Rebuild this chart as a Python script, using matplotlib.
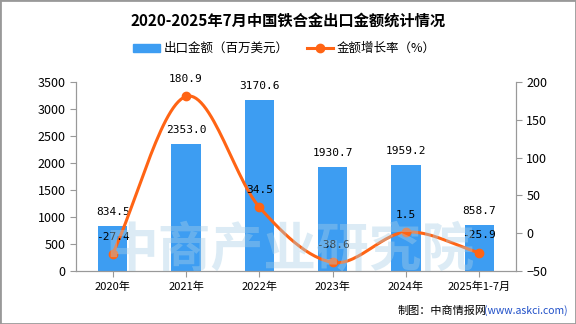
import numpy as np
import matplotlib.pyplot as plt
from matplotlib.patches import Rectangle

plt.rcParams['font.family'] = ['Noto Sans CJK SC', 'DejaVu Sans']

# 数据
年份 = ["2020年", "2021年", "2022年", "2023年", "2024年", "2025年1-7月"]
出口金额 = [834.5, 2353.0, 3170.6, 1930.7, 1959.2, 858.7]
增长率 = [-27.4, 180.9, 34.5, -38.6, 1.5, -25.9]

bar_color = "#3d9df2"
line_color = "#ff6414"

fig = plt.figure(figsize=(5.76, 3.24), dpi=100)
ax = fig.add_axes([76/576, 1 - 271/324, 440/576, 189/324])
ax2 = ax.twinx()

x = np.arange(len(年份))
ax.bar(x, 出口金额, width=0.4, color=bar_color, zorder=2)
ax.set_ylim(0, 3500)
ax.set_yticks(range(0, 3501, 500))
ax.set_xlim(-0.5, len(年份) - 0.5)
ax.set_xticks(x)
ax.set_xticklabels(年份, fontsize=8)

# 平滑曲线（Catmull-Rom）
pts = np.column_stack([x, 增长率]).astype(float)
ext = np.vstack([2 * pts[0] - pts[1], pts, 2 * pts[-1] - pts[-2]])
xs, ys = [], []
t = np.linspace(0, 1, 30)
for i in range(1, len(ext) - 2):
    p0, p1, p2, p3 = ext[i - 1], ext[i], ext[i + 1], ext[i + 2]
    for tt in t:
        c = 0.5 * ((2 * p1) + (-p0 + p2) * tt + (2 * p0 - 5 * p1 + 4 * p2 - p3) * tt ** 2
                   + (-p0 + 3 * p1 - 3 * p2 + p3) * tt ** 3)
        xs.append(c[0])
        ys.append(c[1])
ax2.plot(xs, ys, color=line_color, lw=2.2, zorder=3)
ax2.plot(x, 增长率, 'o', color=line_color, ms=6, zorder=4)
ax2.set_ylim(-50, 200)
ax2.set_yticks(range(-50, 201, 50))

for a in (ax, ax2):
    for s in a.spines.values():
        s.set_color("#999999")
    a.spines['top'].set_visible(False)
    a.tick_params(colors="#999999", labelcolor="black", labelsize=9, length=4)
ax.tick_params(axis='x', labelsize=8)

# 数据标签
for xi, v in zip(x, 出口金额):
    ax.annotate(f"{v:.1f}", (xi, v), xytext=(0, 10), textcoords='offset points',
                ha='center', va='center', fontsize=8, family='DejaVu Sans Mono', zorder=5)
for xi, v in zip(x, 增长率):
    ax2.annotate(f"{v}", (xi, v), xytext=(0, 12.5), textcoords='offset points',
                 ha='center', va='center', fontsize=8, family='DejaVu Sans Mono', zorder=5)

# 水印
fig.text(290/576, 1 - 250/324, "中商产业研究院", ha='center', va='center', fontsize=38,
         color="#a8cfe6", alpha=0.4, fontweight='bold', zorder=1)

fig.text(0.5, 0.935, "2020-2025年7月中国铁合金出口金额统计情况", ha='center', va='center',
         fontsize=11, fontweight='bold')

# 图例
fig.patches.append(Rectangle((133/576, 1 - 52/324), 27/576, 8/324, transform=fig.transFigure,
                             color=bar_color))
fig.text(164/576, 1 - 48/324, "出口金额（百万美元）", va='center', fontsize=9)
fig.lines.append(plt.Line2D([307/576, 333/576], [1 - 48/324] * 2, transform=fig.transFigure,
                            color=line_color, lw=2.2))
fig.lines.append(plt.Line2D([320/576], [1 - 48/324], transform=fig.transFigure,
                            color=line_color, marker='o', ms=6))
fig.text(337/576, 1 - 48/324, "金额增长率（%）", va='center', fontsize=9)

fig.text(398/576, 1 - 311/324, "制图：中商情报网", va='center', fontsize=8)
fig.text(484/576, 1 - 311/324, "(www.askci.com)", va='center', fontsize=7.5, color="#1f4fc8")

# 外框
fig.patches.append(Rectangle((0, 0), 1, 1, transform=fig.transFigure, fill=False,
                             edgecolor="#999999", lw=2))

fig.savefig("out.png", dpi=100)
